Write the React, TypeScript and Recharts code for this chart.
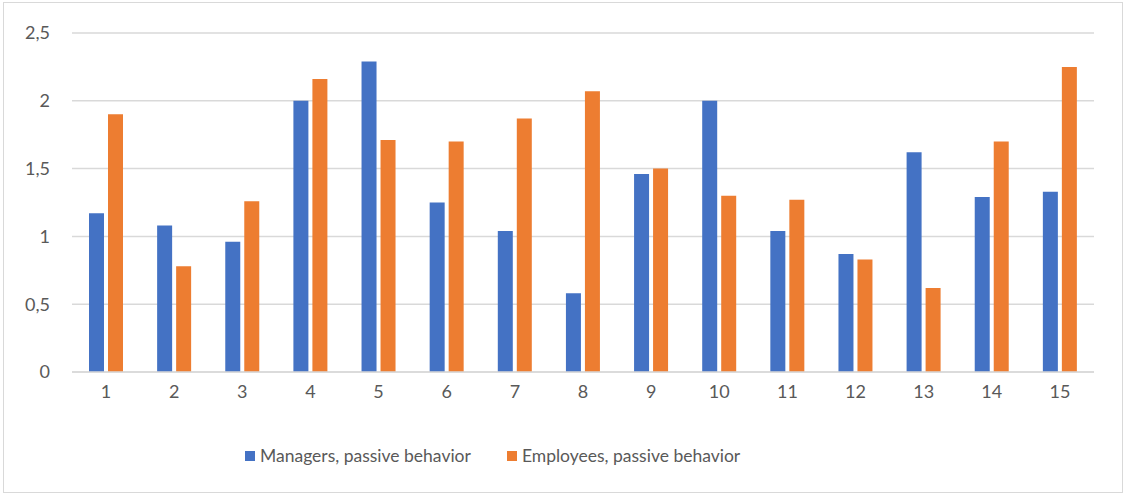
import { BarChart, Bar, XAxis, YAxis, CartesianGrid } from "recharts"

const categories = ["1", "2", "3", "4", "5", "6", "7", "8", "9", "10", "11", "12", "13", "14", "15"]
const managers = [1.17, 1.08, 0.96, 2.0, 2.29, 1.25, 1.04, 0.58, 1.46, 2.0, 1.04, 0.87, 1.62, 1.29, 1.33]
const employees = [1.9, 0.78, 1.26, 2.16, 1.71, 1.7, 1.87, 2.07, 1.5, 1.3, 1.27, 0.83, 0.62, 1.7, 2.25]
const yTicks = [0, 0.5, 1, 1.5, 2, 2.5]

const BLUE = "#4472c4"
const ORANGE = "#ed7d31"
const TEXT = "#595959"
const GRID = "#d9d9d9"
const FONT = "Lato, 'Open Sans', sans-serif"

const data = categories.map((c, i) => ({
  cat: c,
  managers: managers[i],
  employees: employees[i],
}))

function LegendItem({ color, label }: { color: string; label: string }) {
  return (
    <div style={{ display: "flex", alignItems: "center" }}>
      <div style={{ width: 10, height: 10, background: color, marginRight: 5 }} />
      <span>{label}</span>
    </div>
  )
}

export default function App() {
  return (
    <div
      style={{
        position: "fixed",
        left: 0,
        top: 0,
        width: 1125,
        height: 495,
        background: "#fff",
        fontFamily: FONT,
      }}
    >
      <div
        style={{
          position: "absolute",
          left: 3,
          top: 2,
          width: 1118,
          height: 489,
          border: `1px solid ${GRID}`,
        }}
      />
      <div style={{ position: "absolute", left: 0, top: 0 }}>
        <BarChart
          width={1125}
          height={495}
          data={data}
          margin={{ top: 33, right: 31, bottom: 83, left: 0 }}
          barSize={15}
          barGap={4}
        >
          <CartesianGrid vertical={false} stroke={GRID} strokeWidth={1.5} />
          <XAxis
            dataKey="cat"
            height={40}
            tickLine={false}
            axisLine={{ stroke: GRID, strokeWidth: 1.5 }}
            tick={{ fill: TEXT, fontSize: 18, fontFamily: FONT }}
            tickMargin={7}
          />
          <YAxis
            width={72}
            domain={[0, 2.5]}
            ticks={yTicks}
            interval={0}
            tickLine={false}
            axisLine={false}
            tickMargin={16}
            tickFormatter={(v: number) => String(v).replace(".", ",")}
            tick={{ fill: TEXT, fontSize: 18, fontFamily: FONT }}
          />
          <Bar dataKey="managers" fill={BLUE} isAnimationActive={false} />
          <Bar dataKey="employees" fill={ORANGE} isAnimationActive={false} />
        </BarChart>
      </div>
      <div
        style={{
          position: "absolute",
          left: 245,
          top: 445,
          display: "flex",
          gap: 36,
          color: TEXT,
          fontSize: 17.5,
        }}
      >
        <LegendItem color={BLUE} label="Managers, passive behavior" />
        <LegendItem color={ORANGE} label="Employees, passive behavior" />
      </div>
    </div>
  )
}
